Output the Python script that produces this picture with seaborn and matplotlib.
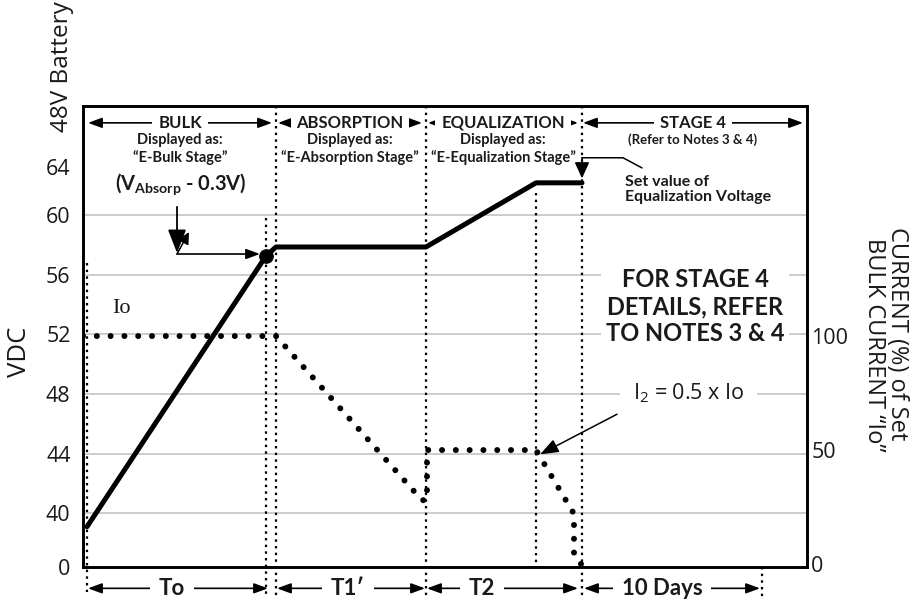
import matplotlib
matplotlib.use("Agg")
import matplotlib.pyplot as plt
import seaborn as sns
import pandas as pd

# ---------------- data (schematic) ----------------
volt_time = [4, 183, 193, 343, 453, 499]
volt_vdc = [39.1, 57.25, 57.85, 57.85, 62.15, 62.15]

curr_time = [0, 193, 339, 344, 344, 453, 491, 491, 498]
curr_pct = [100, 100, 28, 28, 50, 50, 22, 4, 0]

bulk_end_time = [183]
bulk_end_vdc = [57.25]

# the VDC axis of the schematic is broken below 40 and squeezed above 60
vdc_ticks = [36.4, 40, 44, 48, 52, 56, 60, 63.2]
vdc_ticklabels = ["0", "40", "44", "48", "52", "56", "60", "64"]
grid_levels = [40, 44, 48, 52, 56, 60]
curr_ticks = [0, 50, 100]
curr_ticklabels = ["0", "50", "100"]

stage_names = ["BULK", "ABSORPTION", "EQUALIZATION", "STAGE 4"]
stage_display = ["Displayed as:\n\u201cE-Bulk Stage\u201d",
                 "Displayed as:\n\u201cE-Absorption Stage\u201d",
                 "Displayed as:\n\u201cE-Equalization Stage\u201d"]
period_labels = ["To", "T1\u2032", "T2", "10 Days"]

# ---------------- style ----------------
sns.set_theme(style="white")
plt.rcParams["font.family"] = ["Lato", "DejaVu Sans"]
plt.rcParams["mathtext.fontset"] = "custom"
plt.rcParams["mathtext.rm"] = "Open Sans"
plt.rcParams["mathtext.it"] = "Open Sans:italic"
plt.rcParams["mathtext.bf"] = "Lato:bold"
INK = "#1a1a1a"
REG = ["Open Sans", "DejaVu Sans"]

fig = plt.figure(figsize=(9.13, 6.06), dpi=100)
ax = fig.add_axes([83 / 913, 1 - 567 / 606, 724 / 913, 461 / 606])
ax.set_xlim(0, 724)
ax.set_ylim(36.4, 67.3)
ax.set_xticks([])
ax.set_yticks(vdc_ticks)
ax.set_yticklabels(vdc_ticklabels, family=REG)
ax.tick_params(axis="y", length=0, pad=9, labelsize=15.5, labelcolor=INK)
for s in ax.spines.values():
    s.set_linewidth(1.9)
    s.set_color("black")

for g in grid_levels:
    ax.axhline(g, color="#c4c4c4", lw=1.2, zorder=0.5)

# stage boundary dotted lines (x, top, bottom)
stage_lines = [(4, 56.78, 34.7), (183, 59.8, 34.3), (193, 67.3, 34.3),
               (343, 67.3, 34.3), (453, 61.5, 36.4), (499, 67.3, 34.3),
               (679, 36.4, 34.3)]
for x, y0, y1 in stage_lines:
    ax.plot([x, x], [y0, y1], color="black", lw=1.6,
            linestyle=(0, (1.1, 1.9)), clip_on=False, zorder=2)

# voltage line
vdf = pd.DataFrame({"t": volt_time, "v": volt_vdc})
sns.lineplot(data=vdf, x="t", y="v", ax=ax, color="black", lw=3.6,
             estimator=None, sort=False, zorder=4)
bdf = pd.DataFrame({"t": bulk_end_time, "v": bulk_end_vdc})
sns.scatterplot(data=bdf, x="t", y="v", ax=ax, color="black", s=95,
                edgecolor="black", zorder=5)
ax.set_xlabel("")
ax.set_ylabel("")

# current (right axis)
ax2 = ax.twinx()
ax2.set_ylim(-1.3, 200.9)
cdf = pd.DataFrame({"t": curr_time, "c": curr_pct})
sns.lineplot(data=cdf, x="t", y="c", ax=ax2, color="black", lw=4.3,
             linestyle=(0, (0.01, 2.3)), dash_capstyle="round",
             estimator=None, sort=False, zorder=4)
ax2.set_xlim(0, 724)
ax2.set_yticks(curr_ticks)
ax2.set_yticklabels(curr_ticklabels, family=REG)
ax2.tick_params(axis="y", length=0, pad=3, labelsize=15.5, labelcolor=INK)
ax2.set_ylabel("")
ax2.set_xlabel("")
for s in ax2.spines.values():
    s.set_linewidth(1.9)
    s.set_color("black")

# ---------------- annotations ----------------
def dbl_arrow(x0, x1, y):
    ax.annotate("", xy=(x1, y), xytext=(x0, y), annotation_clip=False,
                arrowprops=dict(arrowstyle="<|-|>,head_length=0.6,head_width=0.22",
                                lw=1.2, color="black", shrinkA=0, shrinkB=0,
                                mutation_scale=14), zorder=3)

top_spans = [(5, 189), (195, 339), (345, 495), (500, 720)]
for (x0, x1), name in zip(top_spans, stage_names):
    dbl_arrow(x0, x1, 66.17)
    ax.text((x0 + x1) / 2, 66.17, name, ha="center", va="center",
            fontsize=12, fontweight="bold", color=INK, zorder=6,
            bbox=dict(boxstyle="square,pad=0.35", fc="white", ec="none"))
for (x0, x1), txt in zip(top_spans[:3], stage_display):
    ax.text((x0 + x1) / 2, 64.42, txt, ha="center", va="center",
            fontsize=10.5, fontweight="bold", color=INK, linespacing=1.25,
            zorder=6)
ax.text(610, 65.03, "(Refer to Notes 3 & 4)", ha="center", va="center",
        fontsize=9.5, fontweight="bold", color=INK, zorder=6)

# V absorb label and arrows
ax.text(98, 62.08, r"(V$_{\mathbf{Absorp}}$ - 0.3V)", ha="center",
        va="center", fontsize=14.5, fontweight="bold", color=INK, zorder=6)
ax.annotate("", xy=(94, 57.45), xytext=(94, 60.54),
            arrowprops=dict(arrowstyle="-|>,head_length=0.9,head_width=0.35",
                            lw=1.3, color="black", shrinkA=0, shrinkB=0,
                            mutation_scale=16), zorder=7)
ax.annotate("", xy=(106, 58.85), xytext=(94, 57.38),
            arrowprops=dict(arrowstyle="-|>,head_length=0.5,head_width=0.25",
                            lw=1.1, color="black", shrinkA=0, shrinkB=0,
                            mutation_scale=14), zorder=7)
ax.annotate("", xy=(177, 57.38), xytext=(94, 57.38),
            arrowprops=dict(arrowstyle="-|>,head_length=0.6,head_width=0.22",
                            lw=1.2, color="black", shrinkA=0, shrinkB=0,
                            mutation_scale=14), zorder=7)

# Io label
ax.text(38, 53.7, "Io", ha="center", va="center", fontsize=16,
        family=["Liberation Serif", "DejaVu Serif"], color=INK, zorder=6)

# Set value of equalization voltage
ax.plot([559, 540, 499], [63.15, 63.83, 63.83], color="black", lw=1.1,
        zorder=7, clip_on=False)
ax.annotate("", xy=(499, 62.45), xytext=(499, 63.83),
            arrowprops=dict(arrowstyle="-|>,head_length=0.7,head_width=0.32",
                            lw=1.1, color="black", shrinkA=0, shrinkB=0,
                            mutation_scale=14), zorder=7)
ax.text(542, 61.68, "Set value of\nEqualization Voltage", ha="left",
        va="center", fontsize=11.5, fontweight="bold", color=INK,
        linespacing=1.1, zorder=6)

# stage 4 note
ax.text(612, 53.85, "FOR STAGE 4\nDETAILS, REFER\nTO NOTES 3 & 4",
        ha="center", va="center", fontsize=17, fontweight="bold", color=INK,
        linespacing=1.2, zorder=6,
        bbox=dict(boxstyle="square,pad=0.2", fc="white", ec="none"))

# I2 label
ax.text(550, 48.05, r"I$_{2}$ = 0.5 x Io", ha="left", va="center",
        fontsize=15.5, family=REG, color=INK, zorder=6,
        bbox=dict(boxstyle="square,pad=0.6", fc="white", ec="none"))
ax.annotate("", xy=(457, 43.95), xytext=(534, 46.64),
            arrowprops=dict(arrowstyle="-|>,head_length=0.8,head_width=0.3",
                            lw=1.1, color="black", shrinkA=0, shrinkB=0,
                            mutation_scale=14), zorder=7)

# bottom period arrows
bottom_spans = [(5, 185), (194, 342), (344, 495), (501, 677)]
bottom_centers = [89, 265, 399, 579]
for (x0, x1), xc, lab in zip(bottom_spans, bottom_centers, period_labels):
    dbl_arrow(x0, x1, 34.97)
    ax.text(xc, 34.97, lab, ha="center", va="center", fontsize=16,
            fontweight="bold", color=INK, zorder=6, clip_on=False,
            bbox=dict(boxstyle="square,pad=0.4", fc="white", ec="none"))

# axis titles
fig.text(62 / 913, 1 - 67 / 606, "48V Battery", rotation=90, ha="center",
         va="center", fontsize=17.5, family=REG, color=INK)
fig.text(19 / 913, 1 - 352 / 606, "VDC", rotation=90, ha="center",
         va="center", fontsize=18.5, family=REG, color=INK)
fig.text(897 / 913, 1 - 334 / 606, "CURRENT (%) of Set", rotation=270,
         ha="center", va="center", fontsize=17, family=REG, color=INK)
fig.text(874 / 913, 1 - 345 / 606, "BULK CURRENT \u201cIo\u201d", rotation=270,
         ha="center", va="center", fontsize=17, family=REG, color=INK)

fig.savefig("out.png", dpi=100)
